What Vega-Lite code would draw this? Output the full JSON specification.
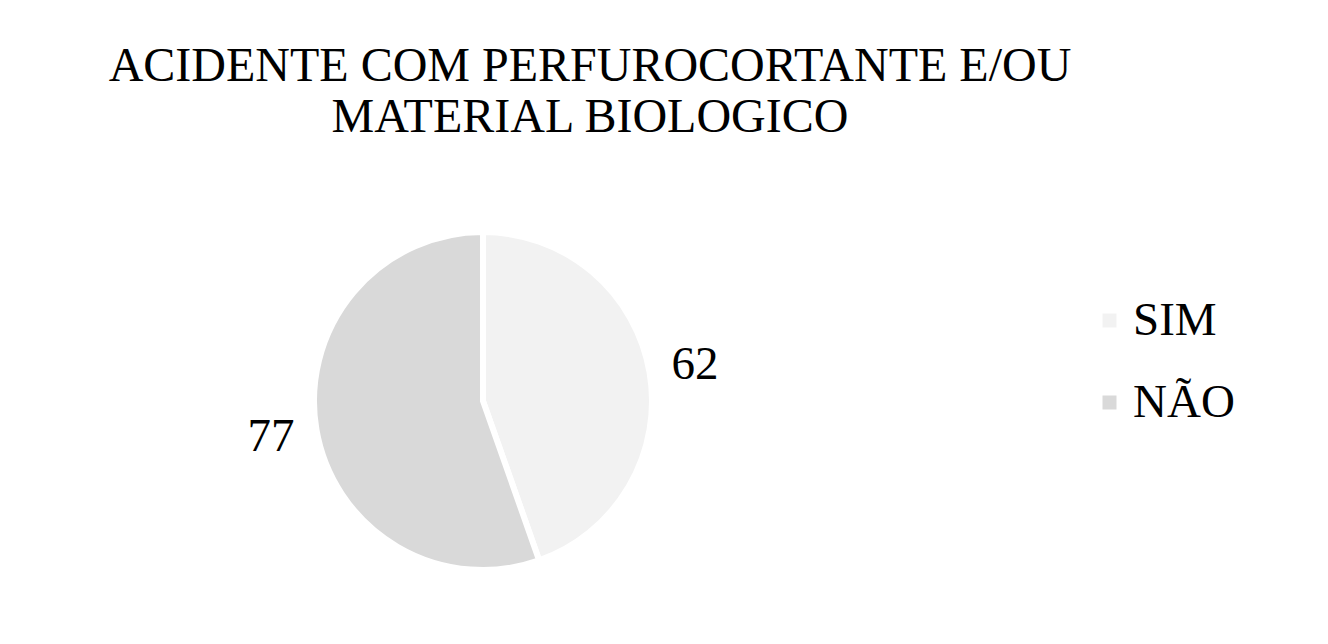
{
  "$schema": "https://vega.github.io/schema/vega-lite/v6.json",
  "autosize": {"type": "none"},
  "width": 332,
  "height": 332,
  "padding": {"left": 317, "top": 235, "right": 679, "bottom": 77},
  "background": "white",
  "config": {
    "view": {"stroke": null},
    "font": "Liberation Serif"
  },
  "title": {
    "text": ["ACIDENTE COM PERFUROCORTANTE E/OU", "MATERIAL BIOLOGICO"],
    "font": "Liberation Serif",
    "fontSize": 48,
    "fontWeight": "normal",
    "color": "black",
    "lineHeight": 51,
    "anchor": "middle",
    "dx": 107,
    "offset": 78
  },
  "data": {
    "values": [
      {"cat": "SIM", "valor": 62, "ord": 1},
      {"cat": "NÃO", "valor": 77, "ord": 2}
    ]
  },
  "encoding": {
    "theta": {"field": "valor", "type": "quantitative", "stack": true},
    "order": {"field": "ord", "type": "quantitative"}
  },
  "layer": [
    {
      "mark": {"type": "arc", "outerRadius": 169, "stroke": "white", "strokeWidth": 6},
      "encoding": {
        "color": {
          "field": "cat",
          "type": "nominal",
          "sort": ["SIM", "NÃO"],
          "scale": {"domain": ["SIM", "NÃO"], "range": ["#f2f2f2", "#d9d9d9"]},
          "legend": {
            "title": null,
            "orient": "none",
            "legendX": 769,
            "legendY": 62,
            "padding": 0,
            "symbolType": "square",
            "symbolSize": 196,
            "symbolStrokeWidth": 0,
            "labelFont": "Liberation Serif",
            "labelFontSize": 47,
            "labelColor": "black",
            "labelOffset": 0,
            "rowPadding": 34
          }
        }
      }
    },
    {
      "mark": {"type": "text", "radius": 215, "font": "Liberation Serif", "fontSize": 47, "color": "black", "baseline": "middle", "align": "center"},
      "encoding": {
        "detail": {"field": "cat", "type": "nominal"},
        "text": {"field": "valor", "type": "quantitative"}
      }
    }
  ]
}
